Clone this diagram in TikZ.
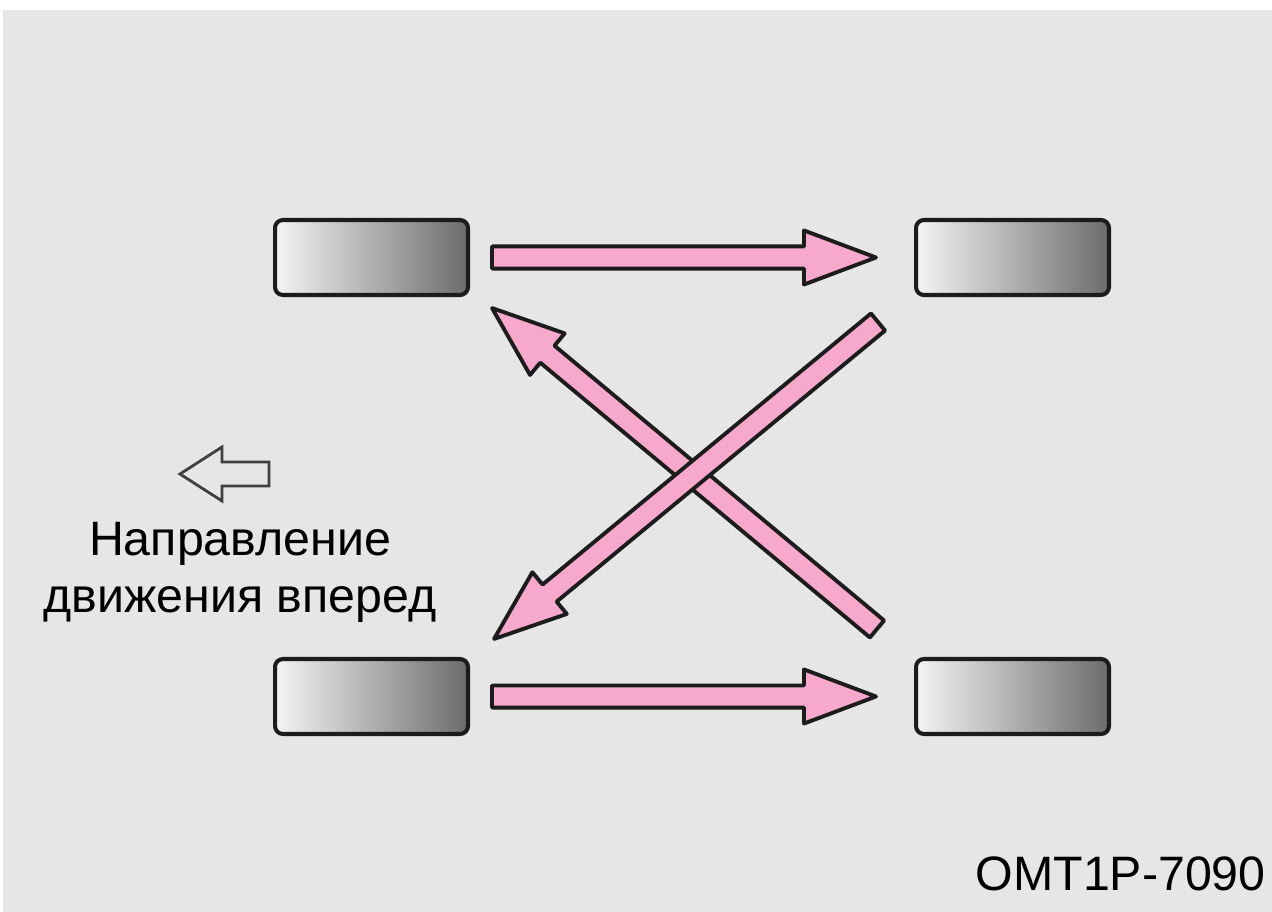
\documentclass[tikz,border=0pt]{standalone}
\usepackage{fontspec}
\newfontfamily\labelfont{Liberation Sans}
\usetikzlibrary{calc, positioning}
\definecolor{bggray}{HTML}{E6E6E6}
\definecolor{pinkfill}{HTML}{F7A9CB}
\definecolor{darkline}{HTML}{1C1C1C}
\definecolor{tyrelight}{HTML}{F4F4F4}
\definecolor{tyredark}{HTML}{6C6C6C}
\definecolor{hollowline}{HTML}{404040}

% fat pink arrow from #1 to #2
\newcommand{\pinkarrow}[2]{%
  \draw[pinkline] let \p1=(#1), \p2=(#2),
      \n1={atan2(\y2-\y1,\x2-\x1)}, \n2={veclen(\x2-\x1,\y2-\y1)} in
      [shift={(\p1)}, rotate=\n1]
      (0pt,-6.3pt) -- (\n2-41pt,-6.3pt) -- (\n2-41pt,-15.4pt) -- (\n2,0pt)
      -- (\n2-41pt,15.4pt) -- (\n2-41pt,6.3pt) -- (0pt,6.3pt) -- cycle;}

\begin{document}
\begin{tikzpicture}[
    x=0.02cm, y=-0.02cm,
    tyre/.style={rectangle, rounded corners=4.5pt, draw=darkline, line width=2.3pt,
        left color=tyrelight, right color=tyredark,
        minimum width=3.86cm, minimum height=1.5cm, inner sep=0pt},
    pinkline/.style={draw=darkline, fill=pinkfill, line width=2.2pt, line join=round},
    every node/.style={font=\labelfont\fontsize{27.5}{32.3}\selectfont}
]

% Background
\fill[white] (0,0) rectangle (1272,912);
\fill[bggray] (3,10) rectangle (1272,912);

% Tyres
\node[tyre] (front1) at (371.5,257.5) {};
\node[tyre] (rear1) at (1012.5,257.5) {};
\node[tyre] (front2) at (371.5,696.5) {};
\node[tyre] (rear2) at (1012.5,696.5) {};

% Arrow ends
\coordinate (top-from) at ($(front1.east)+(22,0)$);
\coordinate (top-to) at ($(rear1.west)+(-38,0)$);
\coordinate (bot-from) at ($(front2.east)+(22,0)$);
\coordinate (bot-to) at ($(rear2.west)+(-38,0)$);
\coordinate (up-from) at ($(rear2.north west)+(-37,-28)$);
\coordinate (up-to) at ($(front1.south east)+(22,11)$);
\coordinate (down-from) at ($(rear1.south west)+(-36,25)$);
\coordinate (down-to) at ($(front2.north east)+(24,-18)$);

% Rotation arrows
\pinkarrow{top-from}{top-to}
\pinkarrow{bot-from}{bot-to}
\pinkarrow{up-from}{up-to}
\pinkarrow{down-from}{down-to}

% Forward direction
\draw[hollowline, fill=bggray, line width=1.6pt, line join=miter]
    (180,474) -- (222,447) -- (222,462) -- (269,462) -- (269,486)
    -- (222,486) -- (222,501) -- cycle;
\node[align=center, anchor=base] (dir) at (240,612)
    {Направление\\движения вперед};

% Figure code
\node[anchor=base east, inner sep=0pt] (code) at (1266,890) {OMT1P-7090};

\end{tikzpicture}
\end{document}
